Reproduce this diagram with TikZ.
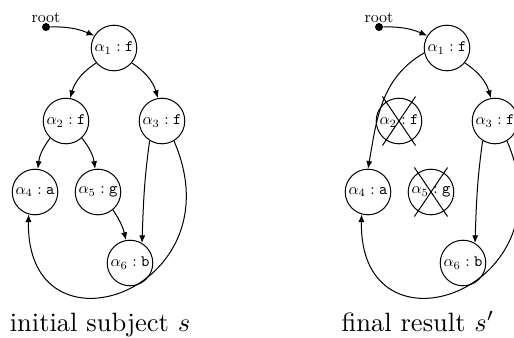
\documentclass[tikz,border=0pt]{standalone}
\usepackage{graphicx}
\usetikzlibrary{arrows.meta,shapes.misc}
\newcommand{\shrunk}[1]{\scalebox{0.6}{#1}}
\begin{document}
\begin{tikzpicture}[x=0.3774pt,y=-0.3774pt,
  line width=0.38pt,
  >={Latex[length=2.9pt,width=2.3pt]},
  term/.style={circle,draw,minimum size=17.2pt,inner sep=0pt},
  rootdot/.style={circle,fill,minimum size=3pt,inner sep=0pt},
  crossmark/.style={cross out,draw,minimum width=12.1pt,minimum height=18.1pt,inner sep=0pt},
  edge/.style={->}]
\useasboundingbox (0,0) rectangle (514,337);

% ---------- initial subject ----------
\node[rootdot] (r) at (46,27) {};
\node[anchor=base,inner sep=0pt] (rl) at (46,22) {\shrunk{root}};
\node[term] (a1) at (114,48) {\shrunk{$\alpha_1:\texttt{f}$}};
\node[term] (a2) at (66,121) {\shrunk{$\alpha_2:\texttt{f}$}};
\node[term] (a3) at (162,121) {\shrunk{$\alpha_3:\texttt{f}$}};
\node[term] (a4) at (35,192) {\shrunk{$\alpha_4:\texttt{a}$}};
\node[term] (a5) at (98,192) {\shrunk{$\alpha_5:\texttt{g}$}};
\node[term] (a6) at (130,263) {\shrunk{$\alpha_6:\texttt{b}$}};

\draw[edge] (r) to[bend left=12] (a1.148);
\draw[edge] (a1.-140) to[bend right=20] (a2.80);
\draw[edge] (a1.-40) to[bend left=20] (a3.100);
\draw[edge] (a2.-133) to[bend right=15] (a4.83);
\draw[edge] (a2.-47) to[bend left=15] (a5.97);
\draw[edge] (a3.-122) to[out=-98,in=88] (a6.59);
\draw[edge] (a5.-50) to[bend left=10] (a6.100);
\draw[edge] (a3.-59) .. controls +(65,150) and +(-3,150) .. (a4.-106);

\node[anchor=base] (c1) at (100,331) {initial subject $s$};

% ---------- final result ----------
\node[rootdot] (q) at (379,27) {};
\node[anchor=base,inner sep=0pt] (ql) at (379,22) {\shrunk{root}};
\node[term] (b1) at (447,48) {\shrunk{$\alpha_1:\texttt{f}$}};
\node[term] (b2) at (399,121) {\shrunk{$\alpha_2:\texttt{f}$}};
\node[term] (b3) at (495,121) {\shrunk{$\alpha_3:\texttt{f}$}};
\node[term] (b4) at (368,192) {\shrunk{$\alpha_4:\texttt{a}$}};
\node[term] (b5) at (431,192) {\shrunk{$\alpha_5:\texttt{g}$}};
\node[term] (b6) at (463,263) {\shrunk{$\alpha_6:\texttt{b}$}};
\node[crossmark] (x2) at (b2) {};
\node[crossmark] (x5) at (b5) {};

\draw[edge] (q) to[bend left=12] (b1.148);
\draw[edge] (b1.-40) to[bend left=20] (b3.100);
\draw[edge] (b1.192) to[out=210,in=80] (b4.90);
\draw[edge] (b3.-122) to[out=-98,in=88] (b6.59);
\draw[edge] (b3.-59) .. controls +(65,150) and +(-3,150) .. (b4.-106);

\node[anchor=base] (c2) at (418,331) {final result $s'$};
\end{tikzpicture}
\end{document}
